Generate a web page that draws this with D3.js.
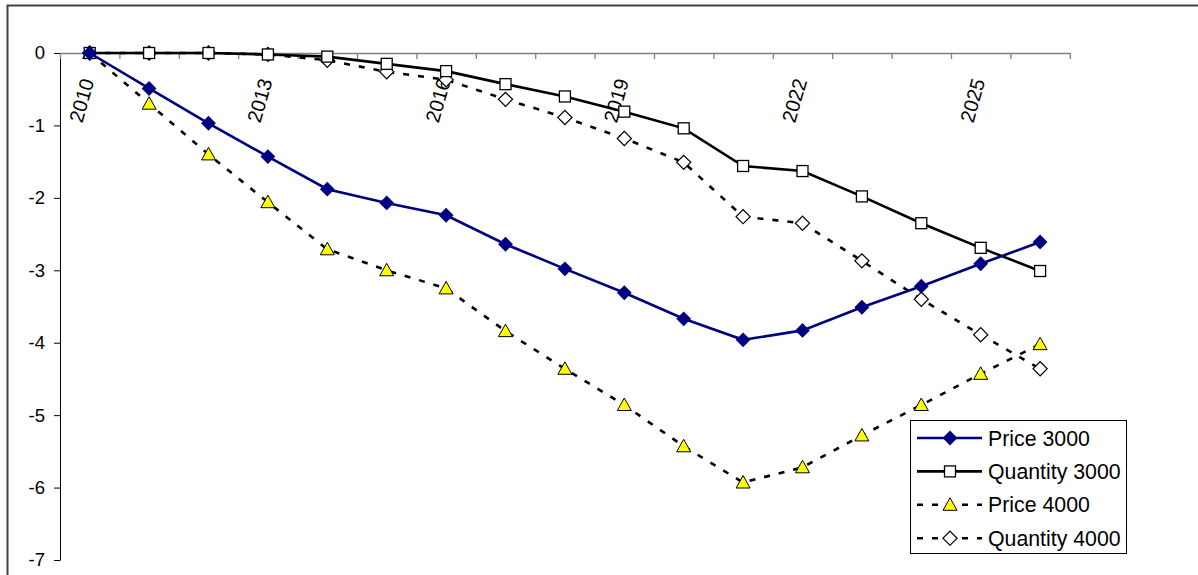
<!DOCTYPE html>
<html>
<head>
<meta charset="utf-8">
<script src="https://cdn.jsdelivr.net/npm/d3@7"></script>
<style>
  html, body { margin: 0; padding: 0; background: #fff; }
  svg { display: block; font-family: "Liberation Sans", Arial, sans-serif; }
</style>
</head>
<body>
<svg class="svg"></svg>
<script>
const years = d3.range(2010, 2027);
const labelYears = [2010, 2013, 2016, 2019, 2022, 2025];
const yTicks = [0, -1, -2, -3, -4, -5, -6, -7];

const price3000 = [0, -0.49, -0.97, -1.43, -1.88, -2.07, -2.24, -2.64, -2.98, -3.31, -3.67, -3.96, -3.83, -3.51, -3.22, -2.91, -2.61];
const quantity3000 = [0, 0, 0, -0.02, -0.05, -0.15, -0.25, -0.43, -0.60, -0.81, -1.04, -1.56, -1.63, -1.98, -2.35, -2.69, -3.01];
const price4000 = [0, -0.70, -1.40, -2.06, -2.71, -3.00, -3.25, -3.84, -4.36, -4.86, -5.43, -5.93, -5.72, -5.28, -4.86, -4.43, -4.02];
const quantity4000 = [0, 0, 0, -0.02, -0.10, -0.26, -0.37, -0.64, -0.89, -1.18, -1.51, -2.26, -2.35, -2.87, -3.40, -3.89, -4.36];

const seriesNames = ['Price 3000', 'Quantity 3000', 'Price 4000', 'Quantity 4000'];

function drawChart () {
    const width = 1198;
    const height = 575;
    const margin = { top: 53, right: 128, bottom: 15, left: 60 };

    const svg = d3.select('.svg')
        .attr('width', width)
        .attr('height', height);

    // outer chart frame (runs off the page right and bottom)
    svg.append('rect')
        .attr('x', 7.5)
        .attr('y', 5.5)
        .attr('width', width + 20)
        .attr('height', height + 20)
        .attr('fill', 'none')
        .attr('stroke', '#404040')
        .attr('stroke-width', 2);

    /* X SCALE */
    const xScale = d3.scaleBand()
        .domain(years)
        .range([margin.left, width - margin.right - 0.2])
        .padding(0);
    const xEdge = d3.scaleLinear()
        .domain([0, years.length])
        .range(xScale.range());
    const xAxis = d3.axisBottom(xEdge)
        .tickValues(d3.range(years.length + 1))
        .tickFormat('')
        .tickSizeInner(6)
        .tickSizeOuter(0);

    /* Y SCALE */
    const yScale = d3.scaleLinear()
        .domain([-7, 0])
        .range([height - margin.bottom, margin.top]);
    const yAxis = d3.axisLeft(yScale)
        .tickValues(yTicks)
        .tickFormat(d => String(d))
        .tickSizeInner(6)
        .tickSizeOuter(0)
        .tickPadding(9);

    const gy = svg.append('g')
        .attr('id', 'y-axis')
        .attr('transform', `translate(${margin.left}, 0)`)
        .call(yAxis);
    gy.selectAll('text')
        .style('font-size', '18.5px')
        .attr('fill', '#000');
    gy.selectAll('line, path').attr('stroke', '#000');

    const gx = svg.append('g')
        .attr('id', 'x-axis')
        .attr('transform', `translate(0, ${yScale(0)})`)
        .call(xAxis);
    gx.selectAll('line, path').attr('stroke', '#808080').attr('stroke-width', 1.3);

    svg.append('g')
        .selectAll('text')
        .data(labelYears).enter()
        .append('text')
        .attr('transform', d => `translate(${xScale(d) + xScale.bandwidth() / 2 - 2}, ${yScale(0) + 26}) rotate(-74)`)
        .attr('text-anchor', 'end')
        .attr('dy', '0.35em')
        .style('font-size', '20px')
        .text(d => d);

    const series = [
        { name: seriesNames[0], values: price3000, color: '#000080', dash: null, marker: 'diamondFill' },
        { name: seriesNames[1], values: quantity3000, color: '#000', dash: null, marker: 'square' },
        { name: seriesNames[2], values: price4000, color: '#000', dash: '6,9', marker: 'triangle' },
        { name: seriesNames[3], values: quantity4000, color: '#000', dash: '6,9', marker: 'diamondOpen' }
    ];

    const line = d3.line()
        .x((d, i) => xScale(years[i]) + xScale.bandwidth() / 2)
        .y(d => yScale(d));

    function drawMarker (g, type, x, y) {
        if (type === 'diamondFill') {
            g.append('path')
                .attr('d', d3.symbol(d3.symbolSquare, 110)())
                .attr('transform', `translate(${x}, ${y}) rotate(45)`)
                .attr('fill', '#000080');
        } else if (type === 'square') {
            g.append('rect')
                .attr('x', x - 5.5).attr('y', y - 5.5)
                .attr('width', 11).attr('height', 11)
                .attr('fill', '#fff')
                .attr('stroke', '#000')
                .attr('stroke-width', 1.3);
        } else if (type === 'triangle') {
            g.append('path')
                .attr('d', `M0,-7L7,5.5L-7,5.5Z`)
                .attr('transform', `translate(${x}, ${y})`)
                .attr('fill', '#ffff00')
                .attr('stroke', '#000')
                .attr('stroke-width', 1);
        } else {
            g.append('path')
                .attr('d', d3.symbol(d3.symbolSquare, 100)())
                .attr('transform', `translate(${x}, ${y}) rotate(45)`)
                .attr('fill', '#fff')
                .attr('stroke', '#000')
                .attr('stroke-width', 1.2);
        }
    }

    // draw in reverse so Price 3000 sits on top
    series.slice().reverse().forEach(s => {
        const g = svg.append('g').attr('class', 'series');
        g.append('path')
            .datum(s.values)
            .attr('d', line)
            .attr('fill', 'none')
            .attr('stroke', s.color)
            .attr('stroke-width', 2.6)
            .attr('stroke-dasharray', s.dash);
        s.values.forEach((v, i) => {
            drawMarker(g, s.marker, xScale(years[i]) + xScale.bandwidth() / 2, yScale(v));
        });
    });

    /* LEGEND */
    const legend = svg.append('g').attr('id', 'legend');
    legend.append('rect')
        .attr('x', 910.5)
        .attr('y', 420.5)
        .attr('width', 216)
        .attr('height', 133)
        .attr('fill', '#fff')
        .attr('stroke', '#000')
        .attr('stroke-width', 1);

    series.forEach((s, i) => {
        const y = 438 + i * 33.4;
        legend.append('line')
            .attr('x1', 917).attr('x2', 982)
            .attr('y1', y).attr('y2', y)
            .attr('stroke', s.color)
            .attr('stroke-width', 2.6)
            .attr('stroke-dasharray', s.dash);
        drawMarker(legend, s.marker, 950, y);
        legend.append('text')
            .attr('x', 988)
            .attr('y', y)
            .attr('dy', '0.36em')
            .style('font-size', '21.3px')
            .text(s.name);
    });
}

document.addEventListener('DOMContentLoaded', () => drawChart());
</script>
</body>
</html>
